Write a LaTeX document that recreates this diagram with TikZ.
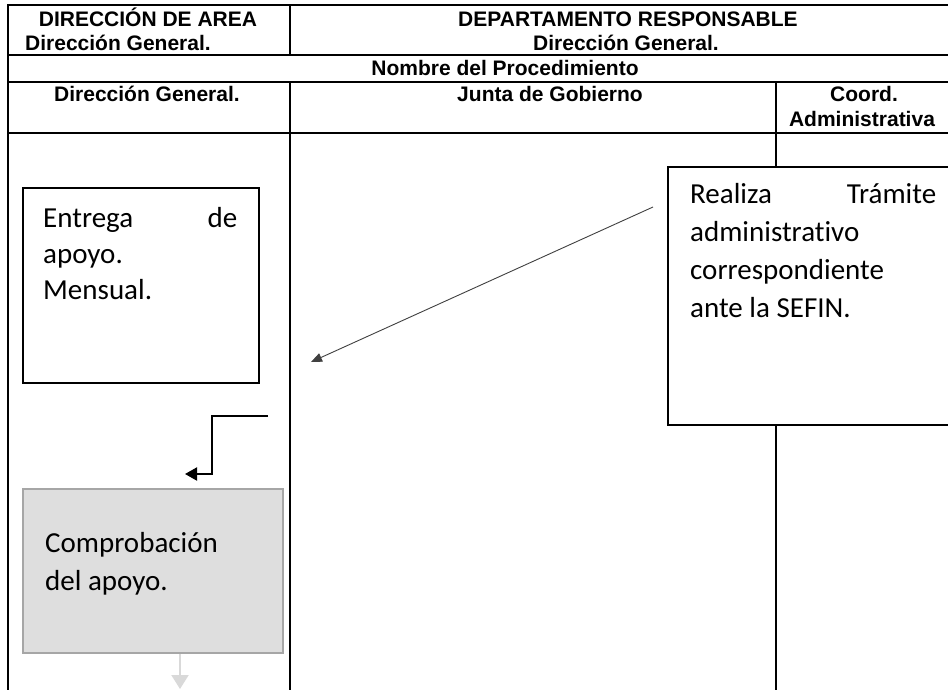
\documentclass[tikz,border=0pt]{standalone}
\usepackage{fontspec}
\setmainfont{Carlito}[Ligatures=NoCommon]
\newfontfamily\hdrfont{Liberation Sans}
\usetikzlibrary{arrows.meta}
\tikzset{
  grid/.style={line width=1.7pt, line cap=rect},
  hdr/.style={font=\hdrfont\bfseries\fontsize{21}{24}\selectfont, inner sep=0pt},
  body/.style={font=\fontsize{29}{36}\selectfont, inner sep=0pt, anchor=base west},
  whitebox/.style={draw=black, line width=1.3pt, fill=white, inner sep=0pt},
  graybox/.style={draw=gray!70, line width=2pt, fill=black!13, inner sep=0pt},
  thinarrow/.style={draw=black!75, line width=0.9pt, -{Triangle[length=11pt,width=9pt]}},
  elbowarrow/.style={draw=black, line width=2pt, -{Triangle[length=12pt,width=13pt]}},
  grayarrow/.style={draw=black!15, line width=2pt, -{Triangle[length=14pt,width=17pt]}}
}
\begin{document}
\begin{tikzpicture}[x=1pt,y=-1pt]
\useasboundingbox (0,0) rectangle (948,689);
\fill[white] (0,0) rectangle (948,689);
% table lines
\draw[grid] (8,5) -- (960,5);
\draw[grid] (8,55) -- (960,55);
\draw[grid] (8,82) -- (960,82);
\draw[grid] (8,133) -- (960,133);
\draw[grid] (8,5) -- (8,700);
\draw[grid] (290,5) -- (290,55);
\draw[grid] (290,82) -- (290,700);
\draw[grid] (776,82) -- (776,700);
% header texts
\node[hdr, anchor=base] (h1) at (148,26) {DIRECCIÓN DE AREA};
\node[hdr, anchor=base west] (h2) at (25,50) {Dirección General.};
\node[hdr, anchor=base] (h3) at (628,26) {DEPARTAMENTO RESPONSABLE};
\node[hdr, anchor=base] (h4) at (626,50) {Dirección General.};
\node[hdr, anchor=base] (h5) at (505,75) {Nombre del Procedimiento};
\node[hdr, anchor=base] (h6) at (147,101) {Dirección General.};
\node[hdr, anchor=base] (h7) at (550,101) {Junta de Gobierno};
\node[hdr, anchor=base] (h8) at (864,101) {Coord.};
\node[hdr, anchor=base] (h9) at (862,126) {Administrativa};
% boxes
\node[whitebox, minimum width=236pt, minimum height=195pt] (entrega) at (141,285.5) {};
\node[whitebox, minimum width=292pt, minimum height=258pt] (realiza) at (814,296) {};
\node[graybox, minimum width=260pt, minimum height=164pt] (comp) at (153,571) {};
% box texts
\node[body] (e1) at (43,227) {\hbox to 194pt{Entrega\hfill de}};
\node[body] (e2) at (43,263) {apoyo.};
\node[body] (e3) at (43,299) {Mensual.};
\node[body] (r1) at (690,203) {\hbox to 246pt{Realiza\hfill Trámite}};
\node[body] (r2) at (690,241) {administrativo};
\node[body] (r3) at (690,279) {correspondiente};
\node[body] (r4) at (690,317) {ante la SEFIN.};
\node[body] (c1) at (45,552) {Comprobación};
\node[body] (c2) at (45,590) {del apoyo.};
% connectors
\coordinate (dstart) at (653,207);
\coordinate (dend) at (311,362);
\draw[thinarrow] (dstart) -- (dend);
\coordinate (estart) at (268,416);
\coordinate (eend) at (185,474);
\draw[elbowarrow] (estart) -- (212,416) -- (212,474) -- (eend);
\coordinate (gend) at (180,689);
\draw[grayarrow] (comp.south -| gend) -- (gend);
\end{tikzpicture}
\end{document}
